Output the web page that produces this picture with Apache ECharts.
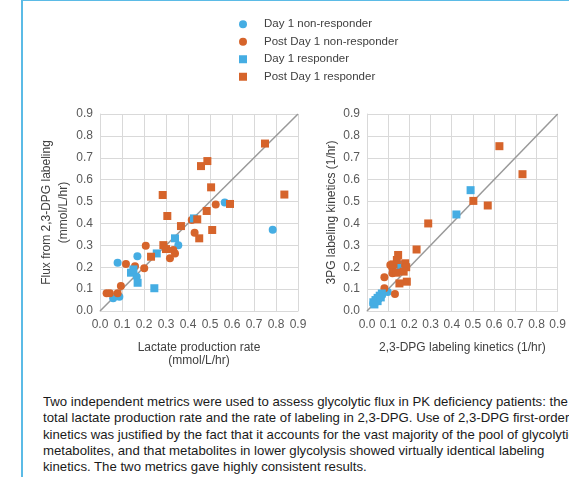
<!DOCTYPE html>
<html>
<head>
<meta charset="utf-8">
<script src="https://cdn.jsdelivr.net/npm/echarts@6/dist/echarts.min.js"></script>
<style>
  html, body { margin: 0; padding: 0; background: #fff; }
  #frame { position: absolute; left: 21px; top: 0; width: 548px; height: 477px;
           border-left: 2px solid #5bbbe6; border-top: 1px solid #5bbbe6; }
  #chart { position: absolute; left: 0; top: 0; width: 569px; height: 380px; }
  #note { position: absolute; left: 43px; top: 394px; width: 526px; overflow: hidden;
          font-family: 'Liberation Sans', Arial, sans-serif; font-size: 13.2px; line-height: 16.3px;
          color: #1a1a1a; white-space: nowrap; }
</style>
</head>
<body>
<div id="frame"></div>
<div id="chart"></div>
<div id="note">
  Two independent metrics were used to assess glycolytic flux in PK deficiency patients: the<br>
  total lactate production rate and the rate of labeling in 2,3-DPG. Use of 2,3-DPG first-order<br>
  kinetics was justified by the fact that it accounts for the vast majority of the pool of glycolytic<br>
  metabolites, and that metabolites in lower glycolysis showed virtually identical labeling<br>
  kinetics. The two metrics gave highly consistent results.
</div>
<script>
  // legend / series names
  const seriesNames = ['Day 1 non-responder', 'Post Day 1 non-responder', 'Day 1 responder', 'Post Day 1 responder']
  const seriesSymbols = ['circle', 'circle', 'rect', 'rect']
  const seriesColors = ['#45ade3', '#d6642b', '#45ade3', '#d6642b']

  // identity line end points (0 -> 0.9)
  const diagonal = [0, 0.9]

  // left chart: x = lactate production rate, y = flux from 2,3-DPG labeling
  const lacDay1Non = [[0.08, 0.22], [0.17, 0.25], [0.06, 0.058], [0.088, 0.065], [0.167, 0.157],
    [0.356, 0.30], [0.567, 0.496], [0.785, 0.371]]
  const lacPostNon = [[0.03, 0.081], [0.045, 0.081], [0.08, 0.081], [0.095, 0.114], [0.118, 0.215],
    [0.159, 0.205], [0.201, 0.195], [0.208, 0.298], [0.318, 0.241], [0.341, 0.263], [0.333, 0.279],
    [0.43, 0.357], [0.417, 0.416], [0.526, 0.487]]
  const lacDay1Resp = [[0.141, 0.175], [0.152, 0.19], [0.171, 0.129], [0.247, 0.104], [0.258, 0.263],
    [0.341, 0.332], [0.427, 0.423]]
  const lacPostResp = [[0.75, 0.765], [0.838, 0.532], [0.459, 0.662], [0.488, 0.685], [0.285, 0.53],
    [0.505, 0.565], [0.591, 0.489], [0.306, 0.434], [0.485, 0.457], [0.442, 0.419], [0.51, 0.37],
    [0.451, 0.332], [0.368, 0.388], [0.288, 0.301], [0.30, 0.283], [0.232, 0.248]]

  // right chart: x = 2,3-DPG labeling kinetics, y = 3PG labeling kinetics
  const kinDay1Non = [[0.098, 0.087], [0.05, 0.05], [0.04, 0.04], [0.07, 0.072], [0.03, 0.035]]
  const kinPostNon = [[0.036, 0.042], [0.082, 0.154], [0.082, 0.104], [0.132, 0.078], [0.12, 0.172],
    [0.12, 0.195], [0.11, 0.21], [0.05, 0.05]]
  const kinDay1Resp = [[0.489, 0.552], [0.422, 0.441], [0.158, 0.21], [0.03, 0.04], [0.04, 0.05],
    [0.05, 0.06], [0.06, 0.07], [0.07, 0.08], [0.035, 0.03], [0.05, 0.045], [0.065, 0.062]]
  const kinPostResp = [[0.625, 0.753], [0.734, 0.625], [0.502, 0.503], [0.57, 0.482], [0.289, 0.40],
    [0.234, 0.281], [0.147, 0.256], [0.141, 0.233], [0.18, 0.218], [0.185, 0.20], [0.173, 0.18],
    [0.138, 0.175], [0.188, 0.134], [0.153, 0.126], [0.125, 0.213]]

  const leftSets = [lacDay1Non, lacPostNon, lacDay1Resp, lacPostResp]
  const rightSets = [kinDay1Non, kinPostNon, kinDay1Resp, kinPostResp]

  const font = "'Liberation Sans', Arial, sans-serif"
  const squareIcon = 'path://M0,0L10,0L10,10L0,10Z'
  const chart = echarts.init(document.getElementById('chart'))

  function makeAxis(gridIndex, name, gap, lineHeight, isY) {
    return {
      type: 'value', gridIndex, min: 0, max: 0.9, interval: 0.1,
      name, nameLocation: 'middle', nameGap: gap, nameRotate: isY ? 90 : 0,
      nameTextStyle: { color: '#404040', fontSize: 12, fontFamily: font, lineHeight },
      axisLine: { show: true, lineStyle: { color: '#d9d9d9' } },
      axisTick: { show: false },
      axisLabel: { color: '#595959', fontSize: 12, fontFamily: font, margin: isY ? 7 : 8,
        formatter: (v) => v.toFixed(1) },
      splitLine: { show: true, lineStyle: { color: '#d9d9d9', width: 1 } },
    }
  }

  const series = []
  ;[leftSets, rightSets].forEach((sets, g) => {
    series.push({
      type: 'line', xAxisIndex: g, yAxisIndex: g, silent: true, symbol: 'none',
      data: [[diagonal[0], diagonal[0]], [diagonal[1], diagonal[1]]],
      lineStyle: { color: '#999999', width: 1.5 }, z: 1,
    })
    sets.forEach((pts, i) => {
      series.push({
        name: seriesNames[i], type: 'scatter', xAxisIndex: g, yAxisIndex: g,
        symbol: seriesSymbols[i], symbolSize: 8, data: pts,
        itemStyle: { color: seriesColors[i], opacity: 1 }, z: 2,
      })
    })
  })

  chart.setOption({
    animation: false,
    legend: {
      data: seriesNames.map((n, i) => ({ name: n, icon: seriesSymbols[i] === 'rect' ? squareIcon : 'circle' })),
      orient: 'vertical', left: 234, top: 12,
      itemWidth: 32, itemHeight: 8, itemGap: 3, symbolKeepAspect: true,
      textStyle: { color: '#404040', fontSize: 11.5, fontFamily: font, lineHeight: 14.5 },
    },
    grid: [
      { left: 100, top: 114, width: 198, height: 197 },
      { left: 367, top: 114, width: 198, height: 197 },
    ],
    xAxis: [
      makeAxis(0, 'Lactate production rate\n(mmol/L/hr)', 30, 13, false),
      makeAxis(1, '2,3-DPG labeling kinetics (1/hr)', 30, 14, false),
    ],
    yAxis: [
      makeAxis(0, 'Flux from 2,3-DPG labeling\n(mmol/L/hr)', 20, 17, true),
      makeAxis(1, '3PG labeling kinetics (1/hr)', 28, 14, true),
    ],
    series,
  })
</script>
</body>
</html>
